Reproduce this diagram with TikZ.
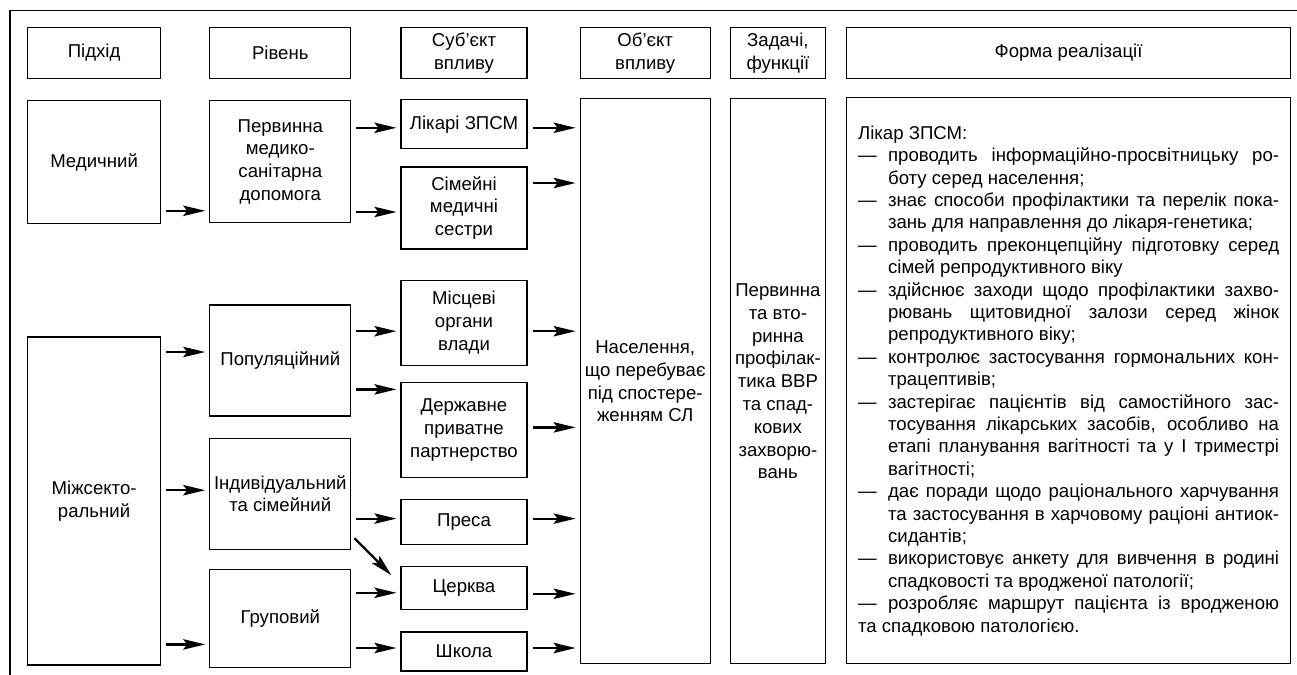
\documentclass[tikz,border=0pt]{standalone}
\usepackage{fontspec}
\setmainfont{Liberation Sans}
\usetikzlibrary{arrows.meta,positioning}
\tikzset{box/.style={draw,line width=0.6pt,align=center,inner xsep=1pt,inner ysep=2pt,
  font=\fontsize{9.3}{11.4}\selectfont},
  head/.style={box,minimum height=25.5pt},
  arrow/.style={-{Stealth[length=11pt,width=5.2pt,inset=2pt]},line width=1.1pt,
  shorten <=2.5pt,shorten >=2pt}}
\newcommand{\dashitem}{\par\hangindent=15pt\hangafter=1\noindent\makebox[15pt][l]{—}}

\begin{document}
\begin{tikzpicture}[node distance=10.5pt]
\useasboundingbox (0,0) rectangle (648.5pt,-337.5pt);
\draw[line width=0.6pt] (5pt,-337.5pt) -- (5pt,-5.25pt) -- (648.5pt,-5.25pt);
% headers
\node[head,minimum width=66.5pt,anchor=north west] (hd1) at (13.5pt,-13.5pt) {Підхід};
\node[head,minimum width=70.5pt,right=24pt of hd1] (hd2) {Рівень};
\node[head,minimum width=63pt,right=24.5pt of hd2] (hd3) {Суб’єкт\\впливу};
\node[head,minimum width=65pt,right=26pt of hd3] (hd4) {Об’єкт\\впливу};
\node[head,minimum width=47.5pt,right=9.5pt of hd4] (hd5) {Задачі,\\функції};
\node[head,minimum width=222pt,right=10pt of hd5] (hd6) {Форма реалізації};
% column 1
\node[box,minimum width=66.5pt,minimum height=61.5pt,below=10.5pt of hd1] (med) {Медичний};
\node[box,minimum width=66.5pt,minimum height=164pt,below=56pt of med] (mizh) {Міжсекто-\\ральний};
% column 2
\node[box,minimum width=70.5pt,minimum height=61pt,below=10.5pt of hd2] (perv) {Первинна\\медико-\\санітарна\\допомога};
\node[box,minimum width=70.5pt,minimum height=55.5pt,below=40.5pt of perv] (pop) {Популяційний};
\node[box,minimum width=70.5pt,minimum height=55.5pt,below=10.5pt of pop] (ind) {Індивідуальний\\та сімейний};
\node[box,minimum width=70.5pt,minimum height=49pt,below=9.5pt of ind] (grup) {Груповий};
% column 3
\node[box,minimum width=63pt,minimum height=24.5pt,below=10pt of hd3] (lik) {Лікарі ЗПСМ};
\node[box,minimum width=63pt,minimum height=41pt,below=8.5pt of lik] (sim) {Сімейні\\медичні\\сестри};
\node[box,minimum width=63pt,minimum height=42.5pt,below=15pt of sim] (mis) {Місцеві\\органи\\влади};
\node[box,minimum width=63pt,minimum height=47.5pt,below=8pt of mis] (derzh) {Державне\\приватне\\партнерство};
\node[box,minimum width=63pt,minimum height=22.5pt,below=10.5pt of derzh] (presa) {Преса};
\node[box,minimum width=63pt,minimum height=21.5pt,below=10.5pt of presa] (cerk) {Церква};
\node[box,minimum width=63pt,minimum height=19.5pt,below=10.5pt of cerk] (shk) {Школа};
% columns 4-6
\node[box,minimum width=65pt,minimum height=282.5pt,below=9.5pt of hd4] (nas) {Населення,\\що перебуває\\під спостере-\\женням СЛ};
\node[box,minimum width=47.5pt,minimum height=282.5pt,below=9.5pt of hd5] (zad) {Первинна\\та вто-\\ринна\\профілак-\\тика ВВР\\та спад-\\кових\\захворю-\\вань};
\node[box,text width=210.5pt,inner xsep=5.75pt,minimum height=283pt,align=justify,
  font=\fontsize{9.3}{11.2}\selectfont,below=9pt of hd6] (forma) {\hyphenpenalty=10000\noindent Лікар ЗПСМ:
\dashitem проводить інформаційно-просвітницьку ро-\linebreak боту серед населення;
\dashitem знає способи профілактики та перелік пока-\linebreak зань для направлення до лікаря-генетика;
\dashitem проводить преконцепційну підготовку серед\linebreak сімей репродуктивного віку
\dashitem здійснює заходи щодо профілактики захво-\linebreak рювань щитовидної залози серед жінок\linebreak репродуктивного віку;
\dashitem контролює застосування гормональних кон-\linebreak трацептивів;
\dashitem застерігає пацієнтів від самостійного зас-\linebreak тосування лікарських засобів, особливо на\linebreak етапі планування вагітності та у І триместрі\linebreak вагітності;
\dashitem дає поради щодо раціонального харчування\linebreak та застосування в харчовому раціоні антиок-\linebreak сидантів;
\dashitem використовує анкету для вивчення в родині\linebreak спадковості та вродженої патології;
\dashitem розробляє маршрут пацієнта із вродженою\linebreak та спадковою патологією.};
% arrows to column 2
\draw[arrow] ([yshift=-24.5pt]perv.west -| med.east) -- ([yshift=-24.5pt]perv.west);
\draw[arrow] ([yshift=4.25pt]pop.west -| mizh.east) -- ([yshift=4.25pt]pop.west);
\draw[arrow] ([yshift=1.75pt]ind.west -| mizh.east) -- ([yshift=1.75pt]ind.west);
\draw[arrow] ([yshift=-13pt]grup.west -| mizh.east) -- ([yshift=-13pt]grup.west);
% arrows to column 3
\draw[arrow] ([yshift=-1.75pt]lik.west -| perv.east) -- ([yshift=-1.75pt]lik.west);
\draw[arrow] ([yshift=-2pt]sim.west -| perv.east) -- ([yshift=-2pt]sim.west);
\draw[arrow] ([yshift=-4.25pt]mis.west -| pop.east) -- ([yshift=-4.25pt]mis.west);
\draw[arrow] ([yshift=20.25pt]derzh.west -| pop.east) -- ([yshift=20.25pt]derzh.west);
\draw[arrow] ([yshift=1.75pt]presa.west -| ind.east) -- ([yshift=1.75pt]presa.west);
\draw[arrow,shorten <=0pt,shorten >=0pt] ([xshift=1.5pt,yshift=-22.25pt]ind.east) -- ([xshift=-4.5pt,yshift=-4.5pt]cerk.north west);
\draw[arrow] ([yshift=-2.25pt]cerk.west -| grup.east) -- ([yshift=-2.25pt]cerk.west);
\draw[arrow] ([yshift=1.75pt]shk.west -| grup.east) -- ([yshift=1.75pt]shk.west);
% arrows to column 4
\draw[arrow] ([yshift=-1.75pt]lik.east) -- ([yshift=-1.75pt]lik.east -| nas.west);
\draw[arrow] ([yshift=12.5pt]sim.east) -- ([yshift=12.5pt]sim.east -| nas.west);
\draw[arrow] ([yshift=-4.25pt]mis.east) -- ([yshift=-4.25pt]mis.east -| nas.west);
\draw[arrow] ([yshift=1.25pt]derzh.east) -- ([yshift=1.25pt]derzh.east -| nas.west);
\draw[arrow] ([yshift=1.75pt]presa.east) -- ([yshift=1.75pt]presa.east -| nas.west);
\draw[arrow] ([yshift=-2.75pt]cerk.east) -- ([yshift=-2.75pt]cerk.east -| nas.west);
\draw[arrow] ([yshift=1.75pt]shk.east) -- ([yshift=1.75pt]shk.east -| nas.west);
\end{tikzpicture}
\end{document}
